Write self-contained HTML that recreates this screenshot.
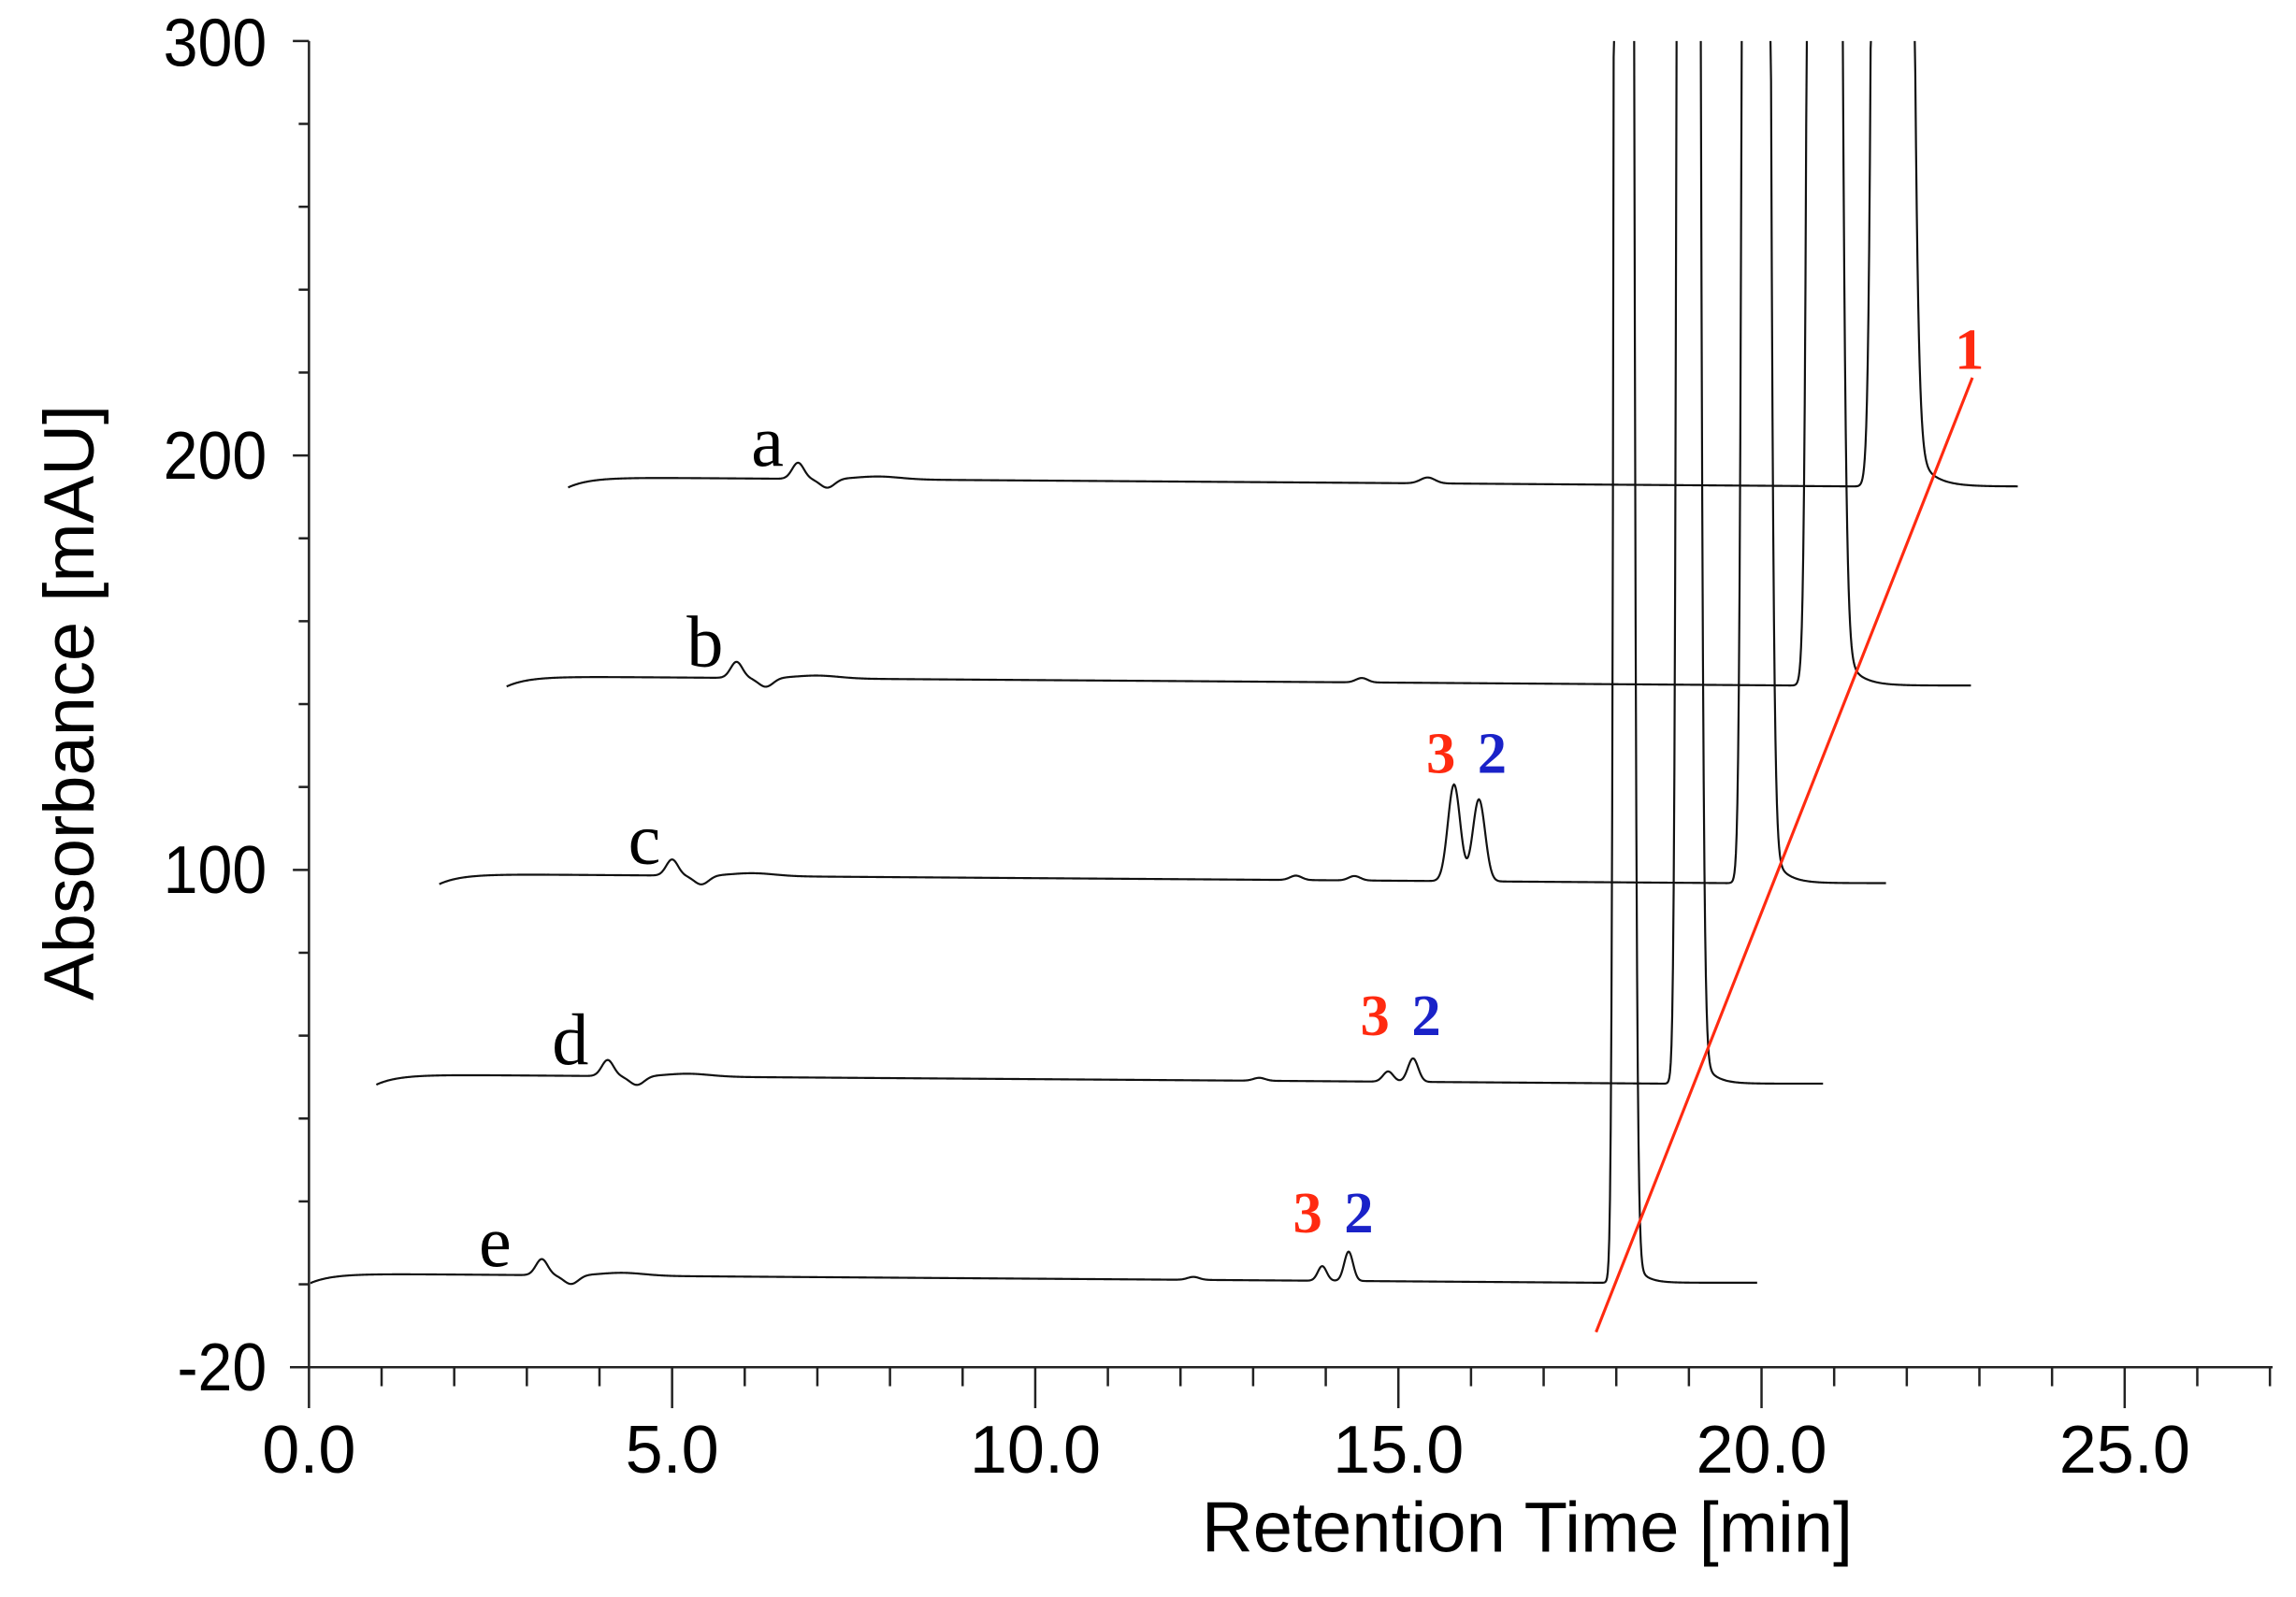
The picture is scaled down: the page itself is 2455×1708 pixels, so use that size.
<!DOCTYPE html>
<html><head><meta charset="utf-8"><style>
html,body{margin:0;padding:0;background:#fff;}
svg{display:block;}
</style></head><body>
<svg id="s" width="2455" height="1708" viewBox="0 0 1568 1091" preserveAspectRatio="none" xmlns="http://www.w3.org/2000/svg">
<defs><clipPath id="cp"><rect x="212" y="28" width="1400" height="900"/></clipPath></defs>
<g id="axes" stroke="#222" stroke-width="1.6" fill="none"></g>
<g id="traces" clip-path="url(#cp)" stroke="#111" stroke-width="1.4" fill="none"></g>
<line x1="1090" y1="910" x2="1347" y2="258" stroke="#ff2a10" stroke-width="2"/>
<g font-family="Liberation Sans, sans-serif" font-size="46" fill="#000" text-anchor="end">
<text x="183" y="45" transform="scale(0.92,1) translate(15,0)">300</text>
<text x="183" y="327" transform="scale(0.92,1) translate(15,0)">200</text>
<text x="183" y="610" transform="scale(0.92,1) translate(15,0)">100</text>
<text x="183" y="950" transform="scale(0.92,1) translate(15,0)">-20</text>
</g>
<g font-family="Liberation Sans, sans-serif" font-size="46" fill="#000" text-anchor="middle">
<text x="211" y="1006">0.0</text>
<text x="459" y="1006">5.0</text>
<text x="707" y="1006">10.0</text>
<text x="955" y="1006">15.0</text>
<text x="1203" y="1006">20.0</text>
<text x="1451" y="1006">25.0</text>
<text x="1043" y="1060" font-size="48.5">Retention Time [min]</text>
<text x="0" y="0" font-size="48.5" transform="translate(64,480) rotate(-90)">Absorbance [mAU]</text>
</g>
<g font-family="Liberation Serif, serif" font-size="50" fill="#000">
<text x="513" y="318">a</text>
<text x="469" y="455">b</text>
<text x="429" y="590">c</text>
<text x="377" y="727">d</text>
<text x="327" y="865">e</text>
</g>
<g font-family="Liberation Serif, serif" font-size="40" font-weight="bold">
<text x="1335" y="252" fill="#ff2a10">1</text>
<text x="974" y="528" fill="#ff2a10">3</text><text x="1009" y="528" fill="#1a22c8">2</text>
<text x="929" y="707" fill="#ff2a10">3</text><text x="964" y="707" fill="#1a22c8">2</text>
<text x="883" y="842" fill="#ff2a10">3</text><text x="918" y="842" fill="#1a22c8">2</text>
</g>
</svg>
<script>
var NS="http://www.w3.org/2000/svg";
function el(p,t,a){var e=document.createElementNS(NS,t);for(var k in a)e.setAttribute(k,a[k]);p.appendChild(e);return e;}
var ax=document.getElementById('axes');
el(ax,'line',{x1:211,y1:28,x2:211,y2:962});
el(ax,'line',{x1:198,y1:934,x2:1552,y2:934});
for(var v=-20;v<=300;v+=20){var y=934-(v+20)*(906/320);var maj=(v==300||v==200||v==100||v==-20);el(ax,'line',{x1:maj?200:204,y1:y,x2:211,y2:y});}
for(var m=1;m<=27;m++){var x=211+m*49.6;var maj=(m%5==0);el(ax,'line',{x1:x,y1:934,x2:x,y2:maj?962:947});}
var tr=document.getElementById('traces');
function g(x,c,s,h){return h*Math.exp(-0.5*Math.pow((x-c)/s,2));}
var T=[
 {x0:388,x1:1378,y0:333,bump:545,small:[[975,4,5]],big:1290,sl:4.6,sr:6.5,tl:120,tau:11},
 {x0:346,x1:1346,y0:469,bump:503,small:[[930,3,4]],big:1244,sl:4,sr:5.6,tl:95,tau:10},
 {x0:300,x1:1288,y0:604,bump:459,small:[[885,3,4],[925,3,4],[993,66,4.2],[1010,56,4.2]],big:1198,sl:3.5,sr:4.6,tl:75,tau:9},
 {x0:257,x1:1245,y0:741,bump:415,small:[[860,2,4],[948,7,3.5],[965,16,3.5]],big:1152,sl:3,sr:4,tl:60,tau:8},
 {x0:211,x1:1200,y0:877,bump:370,small:[[815,2,4],[903,10,3],[921,20,3]],big:1108,sl:2.6,sr:3.5,tl:45,tau:7}
];
T.forEach(function(t){
 var d="";
 for(var x=t.x0;x<=t.x1;x+=0.5){
  var u=x-t.x0;
  var y=t.y0-7*(1-Math.exp(-u/15));
  y+= Math.min(u,880)*7/880*0.9;
  y-=g(x,t.bump,4,11); y+=g(x,t.bump+20,5,6);
  y-=g(x,t.bump+55,15,2);
  t.small.forEach(function(s){y-=g(x,s[0],s[2],s[1]);});
  var c=t.big;
  if(x<c) y-=g(x,c,t.sl,12000);
  else {y-=g(x,c,t.sr,12000); y-=t.tl*Math.exp(-(x-c)/t.tau);}
  if(y<20)y=20;
  d+=(d?"L":"M")+x.toFixed(1)+" "+y.toFixed(2);
 }
 el(tr,'path',{d:d});
});
</script>
</body></html>
